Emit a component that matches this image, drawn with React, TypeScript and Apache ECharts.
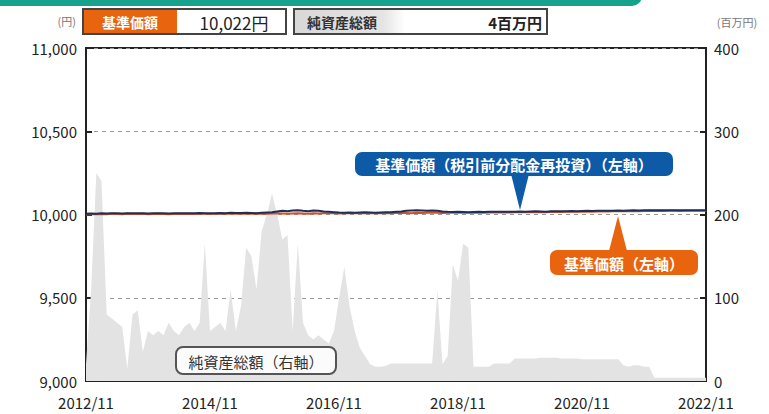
import React, { useEffect, useRef } from "react";
import * as echarts from "echarts";

const START_YEAR = 2012;
const START_MONTH = 11;
const MONTH_COUNT = 121;
const months: string[] = [];
for (let i = 0; i < MONTH_COUNT; i++) {
  const m0 = START_MONTH - 1 + i;
  const y = START_YEAR + Math.floor(m0 / 12);
  const m = (m0 % 12) + 1;
  months.push(`${y}/${m}`);
}

// 純資産総額 (百万円, right axis)
const netAssets = [
  20, 110, 250, 240, 80, 75, 70, 65, 15, 80,
  85, 35, 60, 55, 60, 55, 70, 60, 55, 65,
  70, 60, 70, 165, 60, 65, 70, 60, 110, 60,
  90, 160, 150, 110, 180, 200, 225, 200, 170, 175,
  60, 165, 70, 55, 50, 55, 50, 45, 60, 100,
  137, 90, 60, 40, 30, 20, 17, 17, 18, 21,
  21, 21, 21, 21, 21, 21, 21, 21, 109, 20,
  30, 140, 120, 165, 160, 17, 17, 17, 17, 21,
  21, 21, 21, 27, 27, 27, 27, 27, 28, 28,
  28, 28, 27, 27, 27, 27, 26, 26, 26, 26,
  26, 26, 26, 26, 19, 17, 19, 19, 17, 17,
  4, 4, 4, 4, 4, 4, 4, 4, 4, 4, 4,
];

// 基準価額 (円, left axis)
const navBase = [
  10000, 10002, 10001, 10003, 10002, 10004, 10003, 10002, 10004, 10003,
  10003, 10004, 10002, 10003, 10004, 10003, 10002, 10003, 10004, 10003,
  10004, 10003, 10005, 10004, 10003, 10004, 10005, 10004, 10006, 10005,
  10005, 10006, 10005, 10004, 10006, 10005, 10006, 10007, 10006, 10005,
  10006, 10007, 10006, 10005, 10007, 10006, 10007, 10008, 10007, 10006,
  10007, 10008, 10007, 10008, 10009, 10008, 10007, 10008, 10009, 10008,
  10009, 10010, 10009, 10008, 10010, 10009, 10010, 10011, 10010, 10009,
  10010, 10011, 10012, 10011, 10010, 10011, 10012, 10011, 10012, 10013,
  10012, 10013, 10012, 10013, 10014, 10013, 10014, 10015, 10014, 10013,
  10015, 10016, 10015, 10016, 10017, 10016, 10017, 10018, 10017, 10018,
  10019, 10018, 10019, 10020, 10019, 10020, 10021, 10020, 10021, 10022,
  10021, 10022, 10021, 10022, 10022, 10021, 10022, 10022, 10022, 10022,
  10022,
];

// 基準価額（税引前分配金再投資）(円, left axis)
const navReinvest = [
  10004, 10006, 10005, 10007, 10006, 10008, 10007, 10006, 10008, 10007,
  10007, 10008, 10006, 10007, 10008, 10007, 10006, 10007, 10008, 10007,
  10008, 10007, 10009, 10008, 10007, 10008, 10009, 10008, 10010, 10009,
  10009, 10010, 10009, 10008, 10010, 10012, 10014, 10018, 10022, 10020,
  10024, 10026, 10022, 10020, 10024, 10022, 10018, 10016, 10014, 10012,
  10011, 10012, 10011, 10012, 10013, 10012, 10011, 10012, 10013, 10014,
  10016, 10018, 10022, 10024, 10026, 10024, 10022, 10024, 10022, 10018,
  10016, 10015, 10016, 10015, 10014, 10015, 10016, 10015, 10016, 10017,
  10016, 10017, 10016, 10017, 10018, 10017, 10018, 10019, 10018, 10017,
  10019, 10020, 10019, 10020, 10021, 10020, 10021, 10022, 10021, 10022,
  10023, 10022, 10023, 10024, 10023, 10024, 10025, 10024, 10025, 10026,
  10025, 10026, 10025, 10026, 10026, 10025, 10026, 10026, 10026, 10026,
  10026,
];

const leftTicks = { min: 9000, max: 11000, interval: 500 };
const rightTicks = { min: 0, max: 400, interval: 100 };

const headerNav = "10,022円";
const headerAssets = "4百万円";

const FONT = "'Noto Sans CJK JP', 'Noto Sans', sans-serif";
const ORANGE = "#e8640f";
const BLUE = "#0d5aa7";
const DARK = "#1e2f55";

export default function App() {
  const ref = useRef<HTMLDivElement>(null);
  useEffect(() => {
    if (!ref.current) return;
    const chart = echarts.init(ref.current, null, { renderer: "svg" });
    chart.setOption({
      animation: false,
      backgroundColor: "#ffffff",
      textStyle: { fontFamily: FONT },
      grid: {
        left: 86,
        right: 63,
        top: 48,
        bottom: 33,
        show: true,
        borderColor: "#222",
        borderWidth: 2,
        containLabel: false,
      },
      xAxis: {
        type: "category",
        data: months,
        boundaryGap: false,
        axisLine: { lineStyle: { color: "#222", width: 2 } },
        axisTick: { inside: true, length: 7, interval: 23, lineStyle: { color: "#222", width: 2 } },
        axisLabel: {
          interval: 23,
          color: "#222",
          fontSize: 15,
          lineHeight: 16,
          margin: 13,
          fontFamily: FONT,
        },
        splitLine: { show: false },
      },
      yAxis: [
        {
          type: "value",
          min: leftTicks.min,
          max: leftTicks.max,
          interval: leftTicks.interval,
          axisLine: { show: true, lineStyle: { color: "#222", width: 2 } },
          axisTick: { show: true, inside: true, length: 6, lineStyle: { color: "#222", width: 2 } },
          axisLabel: {
            color: "#222",
            fontSize: 15,
            lineHeight: 16,
            margin: 9,
            fontFamily: FONT,
            formatter: (v: number) => v.toLocaleString("en-US"),
          },
          splitLine: { show: true, lineStyle: { color: "#9a9a9a", type: [4, 4], width: 1.2 } },
        },
        {
          type: "value",
          min: rightTicks.min,
          max: rightTicks.max,
          interval: rightTicks.interval,
          axisLine: { show: true, lineStyle: { color: "#222", width: 2 } },
          axisTick: { show: true, inside: true, length: 6, lineStyle: { color: "#222", width: 2 } },
          axisLabel: { color: "#222", fontSize: 15, lineHeight: 16, margin: 8, fontFamily: FONT },
          splitLine: { show: false },
        },
      ],
      series: [
        {
          name: "純資産総額",
          type: "line",
          yAxisIndex: 1,
          data: netAssets,
          symbol: "none",
          lineStyle: { width: 0 },
          areaStyle: { color: "#e3e3e3", opacity: 1 },
          z: 1,
        },
        {
          name: "基準価額",
          type: "line",
          yAxisIndex: 0,
          data: navBase,
          symbol: "none",
          lineStyle: { width: 2, color: "#d0502a" },
          z: 3,
        },
        {
          name: "基準価額（税引前分配金再投資）",
          type: "line",
          yAxisIndex: 0,
          data: navReinvest,
          symbol: "none",
          lineStyle: { width: 2, color: DARK },
          z: 4,
        },
      ],
      graphic: [
        { type: "rect", shape: { x: -20, y: -20, width: 662, height: 26, r: 10 }, style: { fill: "#16a28c" }, z: 10 },
        { type: "text", x: 76, y: 21, style: { text: "(円)", fill: "#777", fontSize: 11, fontFamily: FONT, align: "right", verticalAlign: "middle" }, z: 10 },
        { type: "text", x: 737, y: 22, style: { text: "(百万円)", fill: "#777", fontSize: 11, fontFamily: FONT, align: "center", verticalAlign: "middle" }, z: 10 },
        { type: "rect", shape: { x: 83, y: 9, width: 203, height: 25 }, style: { fill: "#fff", stroke: "#444", lineWidth: 2 }, z: 10 },
        { type: "rect", shape: { x: 84, y: 10, width: 93, height: 23 }, style: { fill: ORANGE }, z: 11 },
        { type: "text", x: 130, y: 22, style: { text: "基準価額", fill: "#fff", fontSize: 14, fontWeight: "bold", fontFamily: FONT, align: "center", verticalAlign: "middle" }, z: 12 },
        { type: "text", x: 234, y: 22, style: { text: headerNav, fill: "#222", fontSize: 17, fontFamily: FONT, align: "center", verticalAlign: "middle" }, z: 12 },
        { type: "rect", shape: { x: 294, y: 9, width: 253, height: 25 }, style: { fill: "#fff", stroke: "#444", lineWidth: 2 }, z: 10 },
        {
          type: "rect",
          shape: { x: 295, y: 10, width: 110, height: 23 },
          style: {
            fill: new echarts.graphic.LinearGradient(0, 0, 1, 0, [
              { offset: 0, color: "#d8d8d8" },
              { offset: 0.8, color: "#e4e4e4" },
              { offset: 1, color: "#ffffff" },
            ]),
          },
          z: 11,
        },
        { type: "text", x: 342, y: 22, style: { text: "純資産総額", fill: "#333", fontSize: 14, fontWeight: "bold", fontFamily: FONT, align: "center", verticalAlign: "middle" }, z: 12 },
        { type: "text", x: 542, y: 22, style: { text: headerAssets, fill: "#222", fontSize: 15, fontWeight: "bold", fontFamily: FONT, align: "right", verticalAlign: "middle" }, z: 12 },
        { type: "polygon", shape: { points: [[511, 174], [529, 174], [520, 210]] }, style: { fill: BLUE }, z: 20 },
        { type: "rect", shape: { x: 355, y: 152, width: 318, height: 24, r: 7 }, style: { fill: BLUE }, z: 20 },
        { type: "text", x: 514, y: 164, style: { text: "基準価額（税引前分配金再投資）（左軸）", fill: "#fff", fontSize: 15, fontWeight: "bold", fontFamily: FONT, align: "center", verticalAlign: "middle" }, z: 21 },
        { type: "polygon", shape: { points: [[609, 251], [627, 251], [618, 216]] }, style: { fill: ORANGE }, z: 20 },
        { type: "rect", shape: { x: 550, y: 250, width: 148, height: 25, r: 7 }, style: { fill: ORANGE }, z: 20 },
        { type: "text", x: 624, y: 263, style: { text: "基準価額（左軸）", fill: "#fff", fontSize: 15, fontWeight: "bold", fontFamily: FONT, align: "center", verticalAlign: "middle" }, z: 21 },
        { type: "rect", shape: { x: 176, y: 347, width: 160, height: 27, r: 7 }, style: { fill: "rgba(255,255,255,0.85)", stroke: "#555", lineWidth: 2 }, z: 20 },
        { type: "text", x: 256, y: 361, style: { text: "純資産総額（右軸）", fill: "#333", fontSize: 15, fontFamily: FONT, align: "center", verticalAlign: "middle" }, z: 21 },
      ],
    });
    return () => chart.dispose();
  }, []);
  return <div ref={ref} style={{ width: 769, height: 414, position: "absolute", left: 0, top: 0 }} />;
}
